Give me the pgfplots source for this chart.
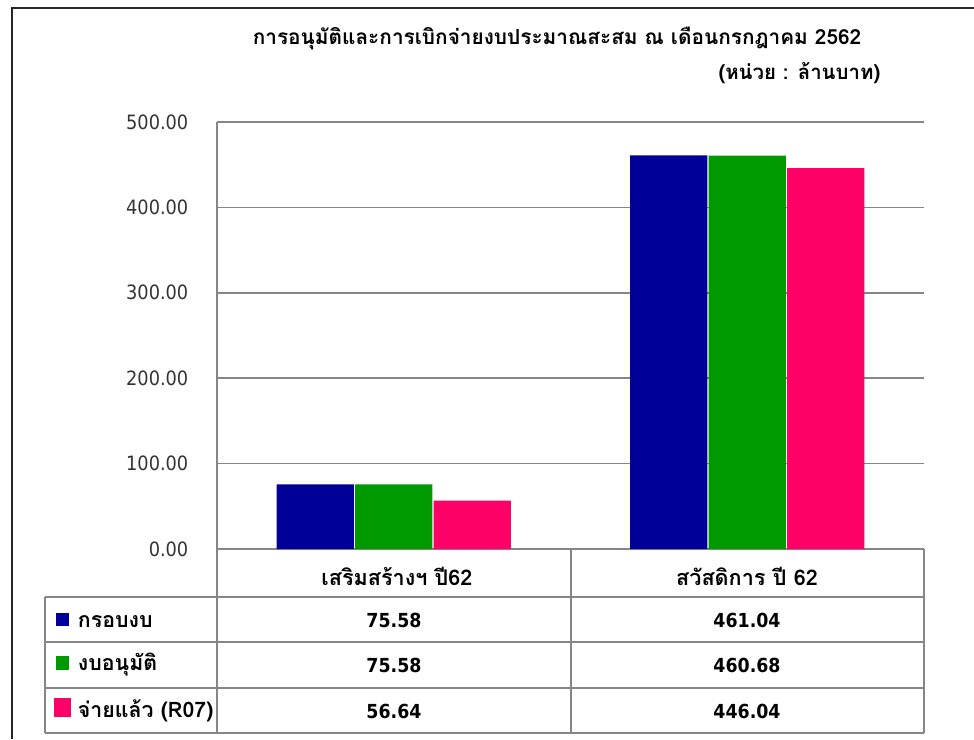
\documentclass[border=0pt]{standalone}
\usepackage{pgfplots}
\pgfplotsset{compat=1.18}
\usepackage{fontspec}
\setmainfont{DejaVu Sans Condensed}
\newfontfamily\thaifont[Script=Thai]{Loma}
\definecolor{cblue}{RGB}{0,0,153}
\definecolor{cgreen}{RGB}{0,153,0}
\definecolor{cpink}{RGB}{255,0,102}
\definecolor{gridgray}{RGB}{134,134,134}
\begin{document}
\begin{tikzpicture}[x=0.75pt,y=-0.75pt]
\path[use as bounding box, fill=white] (0,0) rectangle (974,739);
\draw[line width=2.2pt, black!85] (12,739) -- (12,8) -- (974,8);
\coordinate (AX) at (217,549);
\begin{axis}[
  at={(AX)}, anchor=south west, scale only axis,
  width=530.25pt, height=320.25pt,
  xmin=0, xmax=2, ymin=0, ymax=500,
  xtick=\empty, ytick={0,100,200,300,400,500},
  axis x line*=bottom, axis y line*=left,
  axis line style={gridgray, line width=1.3pt, -},
  ymajorgrids, grid style={gridgray, line width=1.3pt},
  major tick length=0pt,
  yticklabel style={font=\fontsize{14.8}{16}\selectfont, text=black!80, anchor=east, xshift=-18pt},
  /pgf/number format/.cd, fixed, fixed zerofill, precision=2, assume math mode=true,
  /pgfplots/.cd,
  ybar, bar width=0.218, clip=false,
]
\addplot[fill=cblue, draw=none, bar shift=-0.222] coordinates {(0.5,75.58) (1.5,461.04)};
\addplot[fill=cgreen, draw=none, bar shift=0] coordinates {(0.5,75.58) (1.5,460.68)};
\addplot[fill=cpink, draw=none, bar shift=0.222] coordinates {(0.5,56.64) (1.5,446.04)};
\end{axis}
% data table
\draw[gridgray, line width=1.3pt]
  (217,549) -- (217,733) (571,549) -- (571,733) (924,549) -- (924,733)
  (45,597) -- (45,733)
  (45,597) -- (924,597) (45,642) -- (924,642) (45,688) -- (924,688) (45,733) -- (924,733);
\node[font=\thaifont\bfseries\fontsize{15.6}{17}\selectfont] at (557,38) {การอนุมัติและการเบิกจ่ายงบประมาณสะสม ณ เดือนกรกฎาคม 2562};
\node[font=\thaifont\bfseries\fontsize{15.3}{17}\selectfont, anchor=east] at (885,73) {(หน่วย : ล้านบาท)};
\begin{scope}[every node/.style={font=\thaifont\bfseries\fontsize{16.2}{18}\selectfont}]
\node at (397,576) {เสริมสร้างฯ ปี62};
\node at (747,576) {สวัสดิการ ปี 62};
\end{scope}
\begin{scope}[every node/.style={font=\bfseries\fontsize{14.5}{16}\selectfont}]
\node at (394,620) {75.58};
\node at (747,620) {461.04};
\node at (394,665) {75.58};
\node at (747,665) {460.68};
\node at (394,711) {56.64};
\node at (747,711) {446.04};
\end{scope}
\begin{scope}[every node/.style={font=\thaifont\bfseries\fontsize{16}{18}\selectfont, anchor=west, inner sep=0pt}]
\node at (56,620) {\textcolor{cblue}{\rule[1pt]{9.75pt}{10pt}}\hspace{6.5pt}กรอบงบ};
\node at (56,665) {\textcolor{cgreen}{\rule[1pt]{9.75pt}{10pt}}\hspace{6.5pt}งบอนุมัติ};
\node at (54,710) {\textcolor{cpink}{\rule[0pt]{12.75pt}{14pt}}\hspace{5pt}จ่ายแล้ว (R07)};
\end{scope}
\end{tikzpicture}
\end{document}
